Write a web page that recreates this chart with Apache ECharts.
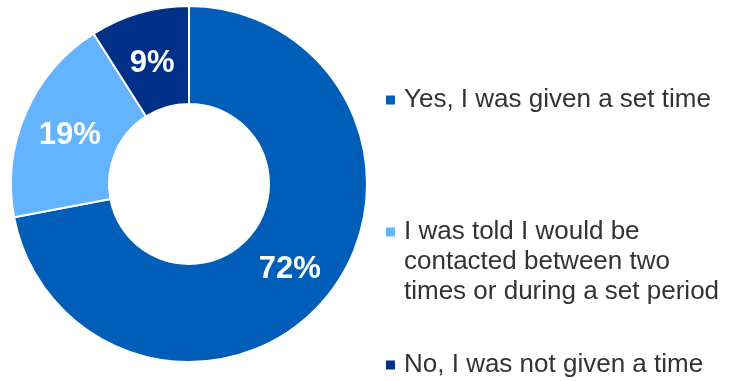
<!DOCTYPE html>
<html>
<head>
<meta charset="utf-8">
<script src="https://cdn.jsdelivr.net/npm/echarts@6/dist/echarts.min.js"></script>
<style>html,body{margin:0;padding:0;background:#fff;}#c{width:729px;height:381px;}</style>
</head>
<body>
<div id="c"></div>
<script>
var categories = ['Yes, I was given a set time', 'I was told I would be\ncontacted between two\ntimes or during a set period', 'No, I was not given a time'];
var values = [72, 19, 9];
var colors = ['#005EB8', '#63B3FF', '#003087'];

var labelOffsets = [[-1, 1], [2, 4], [0, 6]];
var chart = echarts.init(document.getElementById('c'), null, {renderer: 'canvas'});
var font = '"Liberation Sans", Arial, sans-serif';
function legendFor(i, top, h, sqTop) {
  return {
    left: 386, top: top, orient: 'vertical', padding: 0,
    itemWidth: 9, itemHeight: h,
    icon: 'path://M0,' + sqTop + 'H9V' + (sqTop + 9) + 'H0Z M0,0h0.01v0.01h-0.01Z M0,' + h + 'h0.01v-0.01h-0.01Z',
    itemStyle: {borderWidth: 0},
    data: [categories[i]],
    selectedMode: false,
    textStyle: {fontFamily: font, fontSize: 26, color: '#333', lineHeight: 30, padding: [0, 0, 0, 4]}
  };
}
chart.setOption({
  animation: false,
  legend: [
    legendFor(0, 85, 30, 10.5),
    legendFor(1, 217, 90, 10.5),
    legendFor(2, 350, 30, 10.5)
  ],
  series: [{
    type: 'pie',
    center: [189, 184],
    radius: [80, 178],
    startAngle: 90,
    clockwise: true,
    avoidLabelOverlap: false,
    itemStyle: {borderColor: '#fff', borderWidth: 2},
    label: {show: true, position: 'inside', formatter: '{c}%', color: '#fff', fontFamily: font, fontWeight: 'bold', fontSize: 31},
    labelLine: {show: false},
    emphasis: {disabled: true},
    data: categories.map(function (n, i) {
      return {name: n, value: values[i], itemStyle: {color: colors[i]}, label: {offset: labelOffsets[i]}};
    })
  }]
});
</script>
</body>
</html>
